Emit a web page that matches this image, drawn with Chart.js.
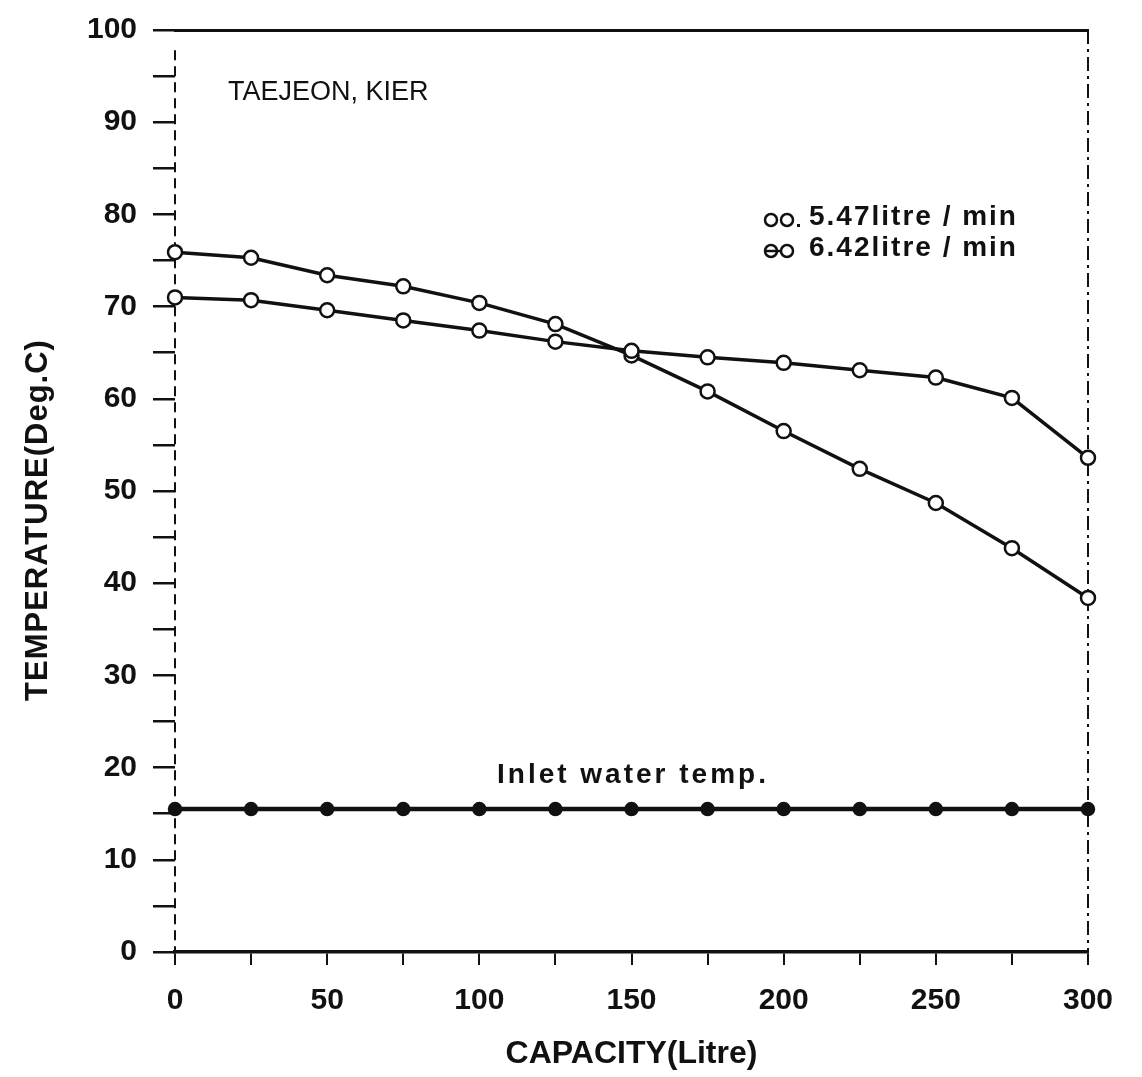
<!DOCTYPE html>
<html>
<head>
<meta charset="utf-8">
<script src="https://cdn.jsdelivr.net/npm/chart.js@4.4.1/dist/chart.umd.min.js"></script>
<style>
  html, body { margin: 0; padding: 0; background: #fff; }
  #wrap { width: 1142px; height: 1077px; }
</style>
</head>
<body>
<div id="wrap"><canvas id="chart" width="1142" height="1077"></canvas></div>
<script>
// tank capacity drawn off (litre)
var capacity = [0, 25, 50, 75, 100, 125, 150, 175, 200, 225, 250, 275, 300];
// outlet temperature, deg C
var flow547 = [71.0, 70.7, 69.6, 68.5, 67.4, 66.2, 65.2, 64.5, 63.9, 63.1, 62.3, 60.1, 53.6];
var flow642 = [75.9, 75.3, 73.4, 72.2, 70.4, 68.1, 64.7, 60.8, 56.5, 52.4, 48.7, 43.8, 38.4];
var inletTemp = [15.5, 15.5, 15.5, 15.5, 15.5, 15.5, 15.5, 15.5, 15.5, 15.5, 15.5, 15.5, 15.5];
var legendLabels = ['5.47litre / min', '6.42litre / min'];

var FONT = "'Liberation Sans', Arial, sans-serif";
var INK = '#111';

function pts(vals){
    return capacity.map(function(c, i){ return {x: c, y: vals[i]}; });
}

// dashed side lines of the frame
var frameLines = {
    id: 'frameLines',
    beforeDatasetsDraw: function(chart){
        var ctx = chart.ctx;
        var xs = chart.scales.x, ys = chart.scales.y;
        var x0 = xs.getPixelForValue(0), x1 = xs.getPixelForValue(300);
        ctx.save();
        ctx.strokeStyle = INK;
        ctx.lineWidth = 2;
        ctx.setLineDash([10, 6]);
        ctx.beginPath();
        ctx.moveTo(x0, ys.getPixelForValue(97.8));
        ctx.lineTo(x0, ys.getPixelForValue(0));
        ctx.stroke();
        ctx.setLineDash([14, 5, 3, 5]);
        ctx.beginPath();
        ctx.moveTo(x1, ys.getPixelForValue(100));
        ctx.lineTo(x1, ys.getPixelForValue(0));
        ctx.stroke();
        ctx.restore();
    }
};

// labels written inside the plot
var notesPlugin = {
    id: 'notes',
    afterDatasetsDraw: function(chart){
        var ctx = chart.ctx;
        ctx.save();
        ctx.fillStyle = INK;
        ctx.textBaseline = 'middle';
        ctx.textAlign = 'left';
        ctx.letterSpacing = '0px';
        ctx.font = '27px ' + FONT;
        ctx.fillText('TAEJEON, KIER', 228, 93);
        ctx.font = 'bold 28px ' + FONT;
        ctx.letterSpacing = '3px';
        ctx.fillText('Inlet water temp.', 497, 775);

        // legend rows
        ctx.letterSpacing = '2px';
        var rows = [217, 248];
        rows.forEach(function(y, i){
            ctx.strokeStyle = INK;
            ctx.lineWidth = 2.5;
            ctx.beginPath(); ctx.arc(771, y + 3, 6, 0, Math.PI * 2); ctx.stroke();
            ctx.beginPath(); ctx.arc(787, y + 3, 6, 0, Math.PI * 2); ctx.stroke();
            if (i == 1) {
                ctx.beginPath(); ctx.moveTo(765, y + 3); ctx.lineTo(781, y + 3); ctx.stroke();
            } else {
                ctx.fillRect(797, y + 7, 3, 3);
            }
            ctx.fillText(legendLabels[i], 809, y);
        });

        // vertical axis title
        ctx.translate(38, 520);
        ctx.rotate(-Math.PI / 2);
        ctx.textAlign = 'center';
        ctx.letterSpacing = '1px';
        ctx.font = 'bold 31px ' + FONT;
        ctx.fillText('TEMPERATURE(Deg.C)', 0, 0);
        ctx.restore();
    }
};

new Chart(document.getElementById('chart'), {
    type: 'line',
    data: {
        datasets: [
            {
                label: legendLabels[0],
                data: pts(flow547),
                borderColor: INK,
                borderWidth: 3.5,
                pointRadius: 7,
                pointBorderWidth: 2.5,
                pointBackgroundColor: '#fff',
                pointBorderColor: INK,
                clip: false
            },
            {
                label: legendLabels[1],
                data: pts(flow642),
                borderColor: INK,
                borderWidth: 3.5,
                pointRadius: 7,
                pointBorderWidth: 2.5,
                pointBackgroundColor: '#fff',
                pointBorderColor: INK,
                clip: false
            },
            {
                label: 'Inlet water temp.',
                data: pts(inletTemp),
                borderColor: INK,
                borderWidth: 4.5,
                pointRadius: 5,
                pointBackgroundColor: INK,
                pointBorderColor: INK,
                clip: false
            }
        ]
    },
    options: {
        responsive: false,
        animation: false,
        events: [],
        layout: { padding: { top: 30, right: 54, left: 0, bottom: 0 } },
        plugins: {
            legend: { display: false },
            tooltip: { enabled: false }
        },
        scales: {
            x: {
                type: 'linear',
                position: 'bottom',
                min: 0,
                max: 300,
                afterFit: function(s){ s.height = 125; s.paddingLeft = 0; s.paddingRight = 0; },
                border: { display: true, color: INK, width: 3.5 },
                grid: { drawOnChartArea: false, drawTicks: true, tickLength: 13, color: INK, lineWidth: 2 },
                ticks: {
                    stepSize: 25,
                    padding: 18,
                    color: INK,
                    font: { family: FONT, size: 30, weight: 'bold' },
                    maxRotation: 0,
                    callback: function(v){ return v % 50 == 0 ? v : ''; }
                },
                title: {
                    display: true,
                    text: 'CAPACITY(Litre)',
                    color: INK,
                    font: { family: FONT, size: 32, weight: 'bold' },
                    padding: { top: 0, bottom: 4 }
                }
            },
            xTop: {
                type: 'linear',
                position: 'top',
                min: 0,
                max: 300,
                afterFit: function(s){ s.height = 0; },
                border: { display: true, color: INK, width: 3 },
                grid: { display: false },
                ticks: { display: false }
            },
            y: {
                min: 0,
                max: 100,
                afterFit: function(s){ s.width = 175; s.paddingTop = 0; s.paddingBottom = 0; },
                border: { display: false },
                grid: { drawOnChartArea: false, drawTicks: true, tickLength: 22, color: INK, lineWidth: 2.5 },
                ticks: {
                    stepSize: 5,
                    padding: 16,
                    color: INK,
                    font: { family: FONT, size: 30, weight: 'bold' },
                    callback: function(v){ return v % 10 == 0 ? v : ''; }
                }
            }
        }
    },
    plugins: [frameLines, notesPlugin]
});
</script>
</body>
</html>
